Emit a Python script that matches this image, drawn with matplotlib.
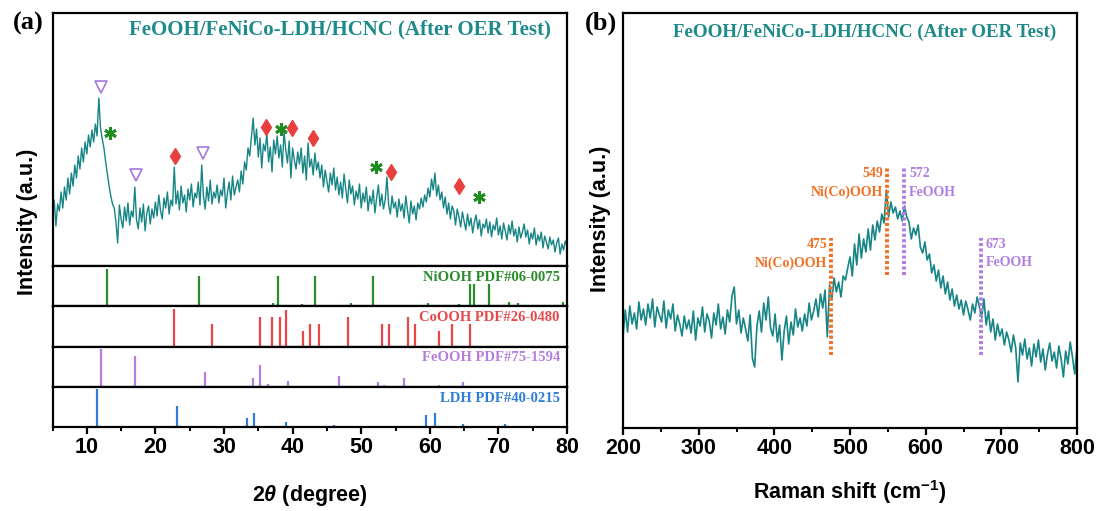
import numpy as np
import matplotlib
matplotlib.use("Agg")
import matplotlib.pyplot as plt
from matplotlib.ticker import MultipleLocator

plt.rcParams['font.family'] = 'Liberation Sans'
plt.rcParams['font.weight'] = 'bold'
plt.rcParams['mathtext.fontset'] = 'custom'
plt.rcParams['mathtext.rm'] = 'Liberation Sans:bold'
plt.rcParams['mathtext.it'] = 'Liberation Sans:bold:italic'
plt.rcParams['mathtext.bf'] = 'Liberation Sans:bold'

# XRD pattern, 2theta 5..80 every 0.25 deg (a.u.)
xrd_int = [
    48, 66, 40, 62, 55, 74, 58, 79, 66, 88, 72, 93,
    80, 101, 88, 110, 97, 118, 104, 124, 112, 131, 119, 136,
    124, 142, 130, 168, 138, 127, 118, 104, 92, 80, 70, 62,
    58, 44, 23, 61, 47, 38, 59, 45, 63, 41, 55, 49,
    79, 46, 37, 58, 44, 62, 35, 53, 60, 42, 57, 48,
    64, 50, 71, 55, 47, 68, 58, 74, 52, 66, 60, 99,
    62, 75, 56, 80, 63, 71, 54, 77, 66, 82, 59, 73,
    68, 84, 61, 101, 70, 57, 79, 65, 86, 62, 74, 68,
    81, 63, 76, 70, 88, 58, 73, 84, 66, 90, 71, 79,
    86, 74, 95, 82, 104, 96, 118, 110, 129, 148, 121, 137,
    109, 128, 98, 122, 115, 133, 104, 119, 94, 126, 112, 130,
    108, 121, 99, 135, 116, 103, 125, 88, 118, 106, 97, 114,
    102, 118, 93, 110, 86, 123, 99, 107, 91, 113, 96, 104,
    88, 101, 79, 96, 85, 74, 93, 81, 98, 76, 89, 71,
    84, 68, 92, 77, 63, 86, 72, 80, 61, 75, 67, 82,
    58, 73, 64, 79, 55, 70, 62, 76, 53, 68, 81, 60,
    72, 57, 66, 89, 61, 52, 70, 58, 64, 49, 67, 55,
    62, 48, 70, 56, 43, 65, 52, 60, 46, 63, 57, 68,
    59, 71, 64, 78, 69, 87, 76, 93, 70, 81, 66, 74,
    58, 69, 52, 63, 47, 60, 55, 41, 57, 49, 39, 54,
    45, 36, 52, 40, 48, 33, 44, 51, 37, 46, 30, 42,
    38, 47, 33, 44, 29, 41, 36, 48, 31, 40, 27, 43,
    35, 26, 41, 32, 45, 30, 37, 24, 39, 28, 34, 42,
    29, 36, 22, 33, 27, 38, 21, 31, 25, 34, 18, 30,
    24, 17, 29, 21, 26, 14, 23, 28, 12, 22, 16, 25,
    19,
]
two_theta = np.linspace(5, 80, len(xrd_int))

# phase markers on the pattern
tri_pos = [12.0, 17.2, 27.0]
tri_h = [179, 91, 113]
dia_pos = [22.85, 36.05, 39.9, 43.0, 54.4, 64.2]
dia_h = [110, 139, 138, 128, 94, 80]
star_pos = [13.35, 38.3, 52.2, 67.2]
star_h = [133, 137, 99, 69]

# reference cards (2theta, relative intensity)
niooh_pos = [12.9, 26.3, 37.1, 37.9, 41.3, 43.3, 48.5, 51.7, 59.8, 64.3, 65.9, 66.4, 68.7, 71.6, 72.9, 79.4]
niooh_int = [100, 80, 9, 80, 5, 80, 9, 80, 9, 7, 58, 58, 58, 10, 9, 10]
cooh_pos = [22.7, 28.2, 35.2, 37.0, 38.2, 39.0, 41.5, 42.6, 43.8, 48.1, 53.1, 54.0, 56.8, 57.8, 61.3, 63.2, 65.9]
cooh_int = [100, 60, 79, 79, 79, 98, 40, 60, 60, 79, 60, 60, 79, 60, 40, 60, 60]
feooh_pos = [12.0, 17.05, 27.2, 34.2, 35.2, 36.4, 38.3, 39.4, 44.1, 46.8, 52.5, 53.3, 56.2, 61.4, 64.9, 68.3]
feooh_int = [100, 82, 39, 24, 58, 7, 3, 14, 3, 29, 13, 4, 24, 4, 13, 3]
ldh_pos = [11.5, 23.2, 33.4, 34.4, 39.0, 46.1, 59.5, 60.8, 64.8, 71.0]
ldh_int = [100, 55, 24, 38, 13, 5, 31, 36, 9, 7]

cards = [
    ("NiOOH PDF#06-0075", niooh_pos, niooh_int, "#2a8c2a"),
    ("CoOOH PDF#26-0480", cooh_pos, cooh_int, "#e8474a"),
    ("FeOOH PDF#75-1594", feooh_pos, feooh_int, "#b57edc"),
    ("LDH PDF#40-0215", ldh_pos, ldh_int, "#2f7dd6"),
]

# Raman spectrum, 200..800 cm-1 every 3 cm-1 (a.u.)
raman_int = [
    91, 118, 96, 122, 104, 115, 99, 126, 108, 119,
    103, 124, 110, 129, 101, 121, 113, 106, 127, 100,
    118, 109, 124, 97, 113, 104, 92, 112, 99, 108,
    95, 117, 88, 110, 102, 121, 96, 114, 107, 90,
    115, 103, 124, 99, 111, 94, 118, 106, 132, 141,
    104, 118, 95, 110, 99, 87, 113, 70, 61, 102,
    117, 96, 125, 108, 131, 100, 92, 114, 86, 103,
    68, 97, 112, 84, 106, 93, 119, 101, 110, 97,
    114, 102, 125, 108, 117, 129, 111, 134, 120, 138,
    91, 143, 128, 150, 136, 146, 131, 152, 148, 160,
    171, 152, 184, 163, 194, 170, 189, 176, 199, 178,
    203, 188, 207, 196, 214, 205, 238, 211, 226, 215,
    221, 209, 217, 207, 222, 211, 206, 189, 200, 193,
    203, 181, 175, 186, 168, 174, 155, 163, 147, 158,
    140, 152, 134, 146, 128, 139, 122, 133, 119, 128,
    113, 127, 118, 108, 124, 115, 131, 121, 110, 129,
    103, 117, 96, 109, 88, 104, 92, 99, 83, 96,
    88, 76, 93, 80, 46, 85, 73, 89, 69, 80,
    62, 84, 71, 88, 66, 79, 58, 74, 85, 67,
    76, 60, 82, 69, 51, 77, 64, 86, 71, 54,
    81,
]
raman_shift = np.linspace(200, 800, len(raman_int))

# Raman band assignments
band_pos = [475, 549, 572, 673]
band_name = ["Ni(Co)OOH", "Ni(Co)OOH", "FeOOH", "FeOOH"]
band_lo = [73, 153, 153, 73]
band_hi = [190, 261, 261, 190]

teal = "#178585"
W, H = 1101, 511


def box(l, t, r, b):
    return [l / W, 1 - b / H, (r - l) / W, (b - t) / H]


def frame(ax):
    for s in ax.spines.values():
        s.set_linewidth(1.6)


def bottom_ticks(ax, major, minor):
    ax.xaxis.set_major_locator(MultipleLocator(major))
    ax.xaxis.set_minor_locator(MultipleLocator(minor))
    ax.tick_params(which='major', direction='out', length=5, width=1.6, labelsize=15.5, pad=2.5)
    ax.tick_params(which='minor', direction='out', length=3, width=1.4)


fig = plt.figure(figsize=(11.01, 5.11), dpi=100)

# ---- (a) XRD ----
ax = fig.add_axes(box(52.5, 13, 567, 266))
ax.plot(two_theta, xrd_int, color=teal, lw=1.0)
ax.plot(tri_pos, tri_h, 'v', ms=9, mfc='white', mec='#a876e0', mew=1.2)
ax.plot(dia_pos, dia_h, 'd', ms=8.5, color='#e8403f')
ax.plot(star_pos, star_h, ls='none', marker=(6, 2, 0), ms=9, mew=2, color='#1e8c1e')
ax.set_xlim(5, 80)
ax.set_ylim(0, 253)
ax.set_xticks([])
ax.set_yticks([])
frame(ax)
ax.text(0.559, 0.933, "FeOOH/FeNiCo-LDH/HCNC (After OER Test)", transform=ax.transAxes,
        ha='center', va='center', fontsize=15, family='Liberation Serif',
        fontweight='bold', color='#1f8a8a')

tops = [266, 306.25, 346.5, 386.75, 427]
for i, (name, pos, inten, col) in enumerate(cards):
    a = fig.add_axes(box(52.5, tops[i], 567, tops[i + 1]))
    a.vlines(pos, 0, inten, color=col, lw=1.6)
    a.set_ylim(0, 107)
    a.set_yticks([])
    frame(a)
    a.text(0.986, 0.72, name, transform=a.transAxes, ha='right', va='center',
           fontsize=10.5, family='Liberation Serif', fontweight='bold', color=col)
    if i < 3:
        a.set_xticks([])
    else:
        bottom_ticks(a, 10, 5)
    a.set_xlim(5, 80)

fig.text(310 / W, 1 - 495 / H, r"2$\it{\theta}$ (degree)", ha='center', va='center', fontsize=15.5)
fig.text(28 / W, 1 - 222 / H, "Intensity (a.u.)", rotation=90, ha='center', va='center', fontsize=15.5)
fig.text(28 / W, 1 - 23 / H, "(a)", ha='center', va='center', fontsize=19,
         family='Liberation Serif', fontweight='bold')

# ---- (b) Raman ----
bx = fig.add_axes(box(623, 13, 1077, 428))
bx.plot(raman_shift, raman_int, color=teal, lw=1.2)
bx.set_xlim(200, 800)
bx.set_ylim(0, 415)
bx.set_yticks([])
bottom_ticks(bx, 100, 50)
frame(bx)

for k in range(4):
    col = '#f07025' if k < 2 else '#b07ee0'
    bx.plot([band_pos[k], band_pos[k]], [band_lo[k], band_hi[k]], color=col, lw=2.8,
            ls=(0, (0.8, 0.6)), solid_capstyle='butt', dash_capstyle='butt')
    right = k < 2
    tx = band_pos[k] - 5 if right else band_pos[k] + 6
    ha = 'right' if right else 'left'
    ytop = band_hi[k] - 6
    bx.text(tx, ytop, str(band_pos[k]), ha=ha, va='center', fontsize=10,
            family='Liberation Serif', fontweight='bold', color=col)
    bx.text(tx, ytop - 19, band_name[k], ha=ha, va='center', fontsize=10,
            family='Liberation Serif', fontweight='bold', color=col)

bx.text(0.533, 0.954, "FeOOH/FeNiCo-LDH/HCNC (After OER Test)", transform=bx.transAxes,
        ha='center', va='center', fontsize=13.7, family='Liberation Serif',
        fontweight='bold', color='#1f8a8a')
fig.text(850 / W, 1 - 492 / H, r"Raman shift (cm$^{-1}$)", ha='center', va='center', fontsize=15.5)
fig.text(600 / W, 1 - 219 / H, "Intensity (a.u.)", rotation=90, ha='center', va='center', fontsize=15.5)
fig.text(601 / W, 1 - 23 / H, "(b)", ha='center', va='center', fontsize=19,
         family='Liberation Serif', fontweight='bold')

fig.savefig("out.png", dpi=100)
